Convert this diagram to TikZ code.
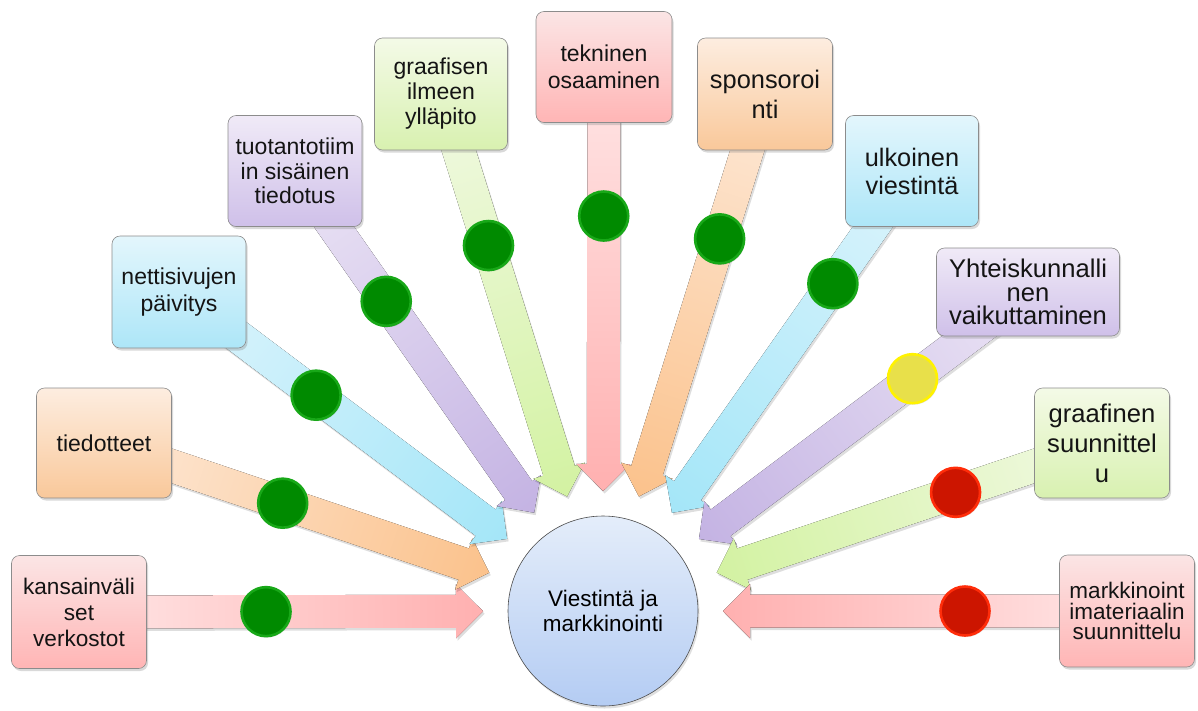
\documentclass[tikz,border=0pt]{standalone}
\usepackage{fontspec}
\setmainfont{Liberation Sans}
\usetikzlibrary{shadows,calc,backgrounds}
% box gradients
\definecolor{pkT}{HTML}{FBE5E5}\definecolor{pkB}{HTML}{FFB5B5}
\definecolor{orT}{HTML}{FDEDE0}\definecolor{orB}{HTML}{F9C89A}
\definecolor{blT}{HTML}{E3F6FC}\definecolor{blB}{HTML}{ADE6F8}
\definecolor{puT}{HTML}{F0EAF7}\definecolor{puB}{HTML}{CFC0E9}
\definecolor{grT}{HTML}{F4FAE7}\definecolor{grB}{HTML}{D8F1B0}
% arrow gradients (L = box end, A = tip end)
\definecolor{pkL}{HTML}{FFE6E6}\definecolor{pkA}{HTML}{FFB0B0}
\definecolor{orL}{HTML}{FDE8D6}\definecolor{orA}{HTML}{FBC28C}
\definecolor{blL}{HTML}{DCF4FC}\definecolor{blA}{HTML}{A4E6F8}
\definecolor{puL}{HTML}{EBE4F5}\definecolor{puA}{HTML}{C4B3E3}
\definecolor{grL}{HTML}{F1F9E3}\definecolor{grA}{HTML}{D3F2A2}
% dots
\definecolor{dgF}{HTML}{008A00}\definecolor{dgE}{HTML}{18A818}
\definecolor{dyF}{HTML}{E8E04A}\definecolor{dyE}{HTML}{FFF200}
\definecolor{drF}{HTML}{CC1500}\definecolor{drE}{HTML}{FF2D0A}
% centre
\definecolor{ccT}{HTML}{E4EDFA}\definecolor{ccB}{HTML}{B4CCF3}
\tikzset{
  box/.style={draw=black!45, line width=0.6pt, rounded corners=8pt, align=center,
    text=black!92, inner sep=1pt,
    drop shadow={opacity=0.3, shadow xshift=1.5pt, shadow yshift=-2.5pt}},
  pinkbox/.style={box, top color=pkT, bottom color=pkB},
  orangebox/.style={box, top color=orT, bottom color=orB},
  bluebox/.style={box, top color=blT, bottom color=blB},
  purplebox/.style={box, top color=puT, bottom color=puB},
  greenbox/.style={box, top color=grT, bottom color=grB},
  dotnode/.style={circle, minimum size=49pt, inner sep=0pt, line width=2.6pt,
    drop shadow={opacity=0.25, shadow xshift=1pt, shadow yshift=-1.5pt}},
  hub/.style={circle, draw=black!70, line width=0.6pt, minimum size=190pt, inner sep=0pt,
    align=center, top color=ccT, bottom color=ccB,
    font=\fontsize{22.5}{25}\selectfont,
    drop shadow={opacity=0.25, shadow xshift=1.5pt, shadow yshift=-2.5pt}}
}
\begin{document}
\begin{tikzpicture}[x=1pt,y=-1pt]
\useasboundingbox (0,0) rectangle (1198,710);

\node[hub] (c) at (603,611) {Viestintä ja\\markkinointi};

\node[pinkbox, minimum width=135pt, minimum height=113pt, font=\fontsize{22.6}{26}\selectfont] (b1) at (79,612) {kansainväli\\set\\verkostot};
\node[orangebox, minimum width=135pt, minimum height=110pt, font=\fontsize{23}{27}\selectfont] (b2) at (104,443) {tiedotteet};
\node[bluebox, minimum width=134pt, minimum height=112pt, font=\fontsize{23}{27}\selectfont] (b3) at (179,292) {nettisivujen\\päivitys};
\node[purplebox, minimum width=134pt, minimum height=111pt, font=\fontsize{23}{24.5}\selectfont] (b4) at (295,171) {tuotantotiim\\in sisäinen\\tiedotus};
\node[greenbox, minimum width=133pt, minimum height=112pt, font=\fontsize{23}{25}\selectfont] (b5) at (441,94) {graafisen\\ilmeen\\ylläpito};
\node[pinkbox, minimum width=136pt, minimum height=111pt, font=\fontsize{23}{27}\selectfont] (b6) at (604,67) {tekninen\\osaaminen};
\node[orangebox, minimum width=135pt, minimum height=112pt, font=\fontsize{25.4}{30}\selectfont] (b7) at (765,94) {sponsoroi\\nti};
\node[bluebox, minimum width=133pt, minimum height=111pt, font=\fontsize{25.3}{28}\selectfont] (b8) at (912,171) {ulkoinen\\viestintä};
\node[purplebox, minimum width=183pt, minimum height=88pt, font=\fontsize{25.6}{23.5}\selectfont] (b9) at (1028,292) {Yhteiskunnalli\\nen\\vaikuttaminen};
\node[greenbox, minimum width=135pt, minimum height=110pt, font=\fontsize{25.6}{30}\selectfont] (b10) at (1102,443) {graafinen\\suunnittel\\u};
\node[pinkbox, minimum width=135pt, minimum height=112pt, font=\fontsize{22.5}{20.5}\selectfont] (b11) at (1127,611) {markkinoint\\imateriaalin\\suunnittelu};

\begin{scope}[on background layer]
\foreach \i/\lc/\dc in {1/pkL/pkA,2/orL/orA,3/blL/blA,4/puL/puA,5/grL/grA,6/pkL/pkA,7/orL/orA,8/blL/blA,9/puL/puA,10/grL/grA,11/pkL/pkA}{
  \path let \p1=($(b\i.center)-(c.center)$) in
    \pgfextra{\pgfmathsetmacro\mylen{veclen(\x1,\y1)}\xdef\glen{\mylen}%
              \pgfmathsetmacro\myang{atan2(\y1,\x1)}\xdef\gang{\myang}};
  \fill[black, opacity=0.13, transform canvas={shift={($(c.center)+(1.5pt,-2.5pt)$)}, rotate=\gang}]
    (120pt,0pt) -- (147pt,27pt) -- (147pt,16.5pt) -- (\glen pt,16.5pt) -- (\glen pt,-16.5pt)
    -- (147pt,-16.5pt) -- (147pt,-27pt) -- cycle;
  \fill[left color=\dc, right color=\lc, transform canvas={shift={(c.center)}, rotate=\gang}]
    (120pt,0pt) -- (147pt,27pt) -- (147pt,16.5pt) -- (\glen pt,16.5pt) -- (\glen pt,-16.5pt)
    -- (147pt,-16.5pt) -- (147pt,-27pt) -- cycle;
}
\end{scope}

\foreach \i/\r/\fc/\ec in {1/337/dgF/dgE,2/338/dgF/dgE,3/359/dgF/dgE,4/378/dgF/dgE,5/383/dgF/dgE,6/395/dgF/dgE,7/390/dgF/dgE,8/400/dgF/dgE,9/387/dyF/dyE,10/372/drF/drE,11/362/drF/drE}{
  \node[dotnode, fill=\fc, draw=\ec] (d\i) at ($(c.center)!\r pt!(b\i.center)$) {};
}
\end{tikzpicture}
\end{document}
